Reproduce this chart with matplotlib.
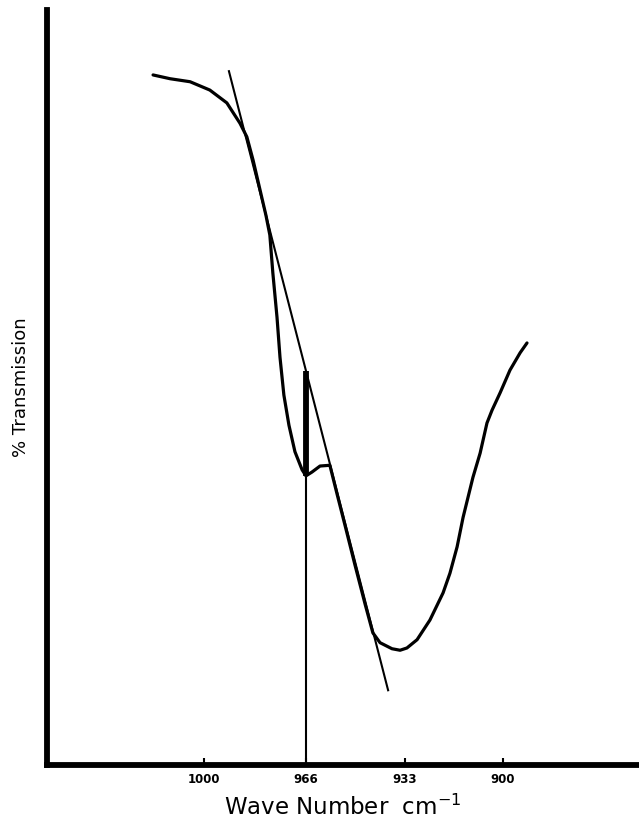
import numpy as np
import matplotlib
matplotlib.use("Agg")
import matplotlib.pyplot as plt

# absorption band of the spectrum (wave number in cm-1, % transmission)
wave = [1017.2, 1011.5, 1004.8, 998.2, 992.5, 988.1, 985.8, 983.7, 981.4,
        979.4, 978.1, 977.1, 975.7, 974.7, 973.4, 971.7, 969.7, 967.3,
        966.0, 964.0, 961.3, 958.0, 955.6, 952.9, 949.6, 946.2, 943.6,
        941.2, 937.2, 934.5, 932.2, 928.8, 924.5, 920.1, 917.8, 915.4,
        913.4, 910.1, 907.7, 905.4, 903.7, 901.0, 897.7, 894.3, 892.0]
trans = [91.4, 90.9, 90.5, 89.4, 87.7, 85.0, 83.2, 80.1, 76.2,
         72.8, 70.2, 65.2, 59.3, 54.0, 49.0, 45.0, 41.5, 39.1,
         38.3, 38.8, 39.6, 39.7, 35.9, 31.7, 26.5, 21.3, 17.5,
         16.2, 15.4, 15.2, 15.5, 16.6, 19.2, 22.8, 25.4, 28.9,
         32.8, 38.1, 41.3, 45.3, 47.0, 49.3, 52.3, 54.6, 55.9]

# baseline drawn as a tangent to the band
base_wave = [991.8, 938.5]
base_trans = [91.9, 9.9]

band_pos = 966
tick_pos = [1000, 966, 933, 900]
tick_labels = ['1000', '966', '933', '900']

fig = plt.figure(figsize=(6.39, 8.21), dpi=100)
ax = fig.add_axes([0.0736, 0.0682, 0.9264, 0.9196])

ax.plot(wave, trans, color='black', lw=2.3, solid_capstyle='round',
        solid_joinstyle='round')
ax.plot(base_wave, base_trans, color='black', lw=1.5)

# vertical line at the band, heavy between baseline and curve
t_base = np.interp(band_pos, base_wave[::-1], base_trans[::-1])
t_curve = np.interp(band_pos, wave[::-1], trans[::-1])
ax.plot([band_pos, band_pos], [0, t_curve], color='black', lw=1.5)
ax.plot([band_pos, band_pos], [t_curve, t_base], color='black', lw=4.2,
        solid_capstyle='butt')

ax.set_xlim(1052.7, 854.5)
ax.set_ylim(0, 100)
ax.set_xticks(tick_pos)
ax.set_xticklabels(tick_labels, fontsize=8.5, fontweight='bold')
ax.tick_params(axis='x', direction='in', length=5, width=1.5, pad=6)
ax.set_yticks([])

for s in ['top', 'right']:
    ax.spines[s].set_visible(False)
for s in ['left', 'bottom']:
    ax.spines[s].set_linewidth(4.2)

ax.set_xlabel('Wave Number  cm$^{-1}$', fontsize=16.5, labelpad=6)
ax.set_ylabel('% Transmission', fontsize=13, labelpad=12)

fig.savefig('out.png', dpi=100)
